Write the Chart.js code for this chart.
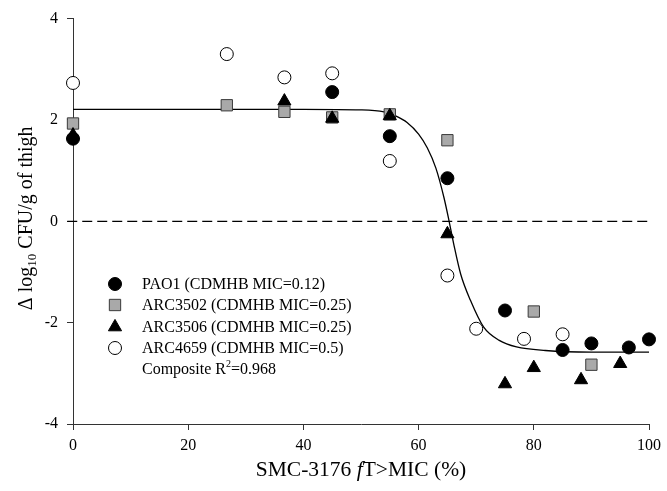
<!DOCTYPE html>
<html>
<head>
<meta charset="utf-8">
<script src="https://cdn.jsdelivr.net/npm/chart.js@4.4.0/dist/chart.umd.min.js"></script>
<style>
  html, body { margin: 0; padding: 0; background: #fff; }
  #wrap { width: 667px; height: 491px; }
</style>
</head>
<body>
<div id="wrap"><canvas id="chart" width="667" height="491"></canvas></div>
<script>
// data
const pao1X = [0, 45, 55, 65, 75, 85, 90, 96.5, 100];
const pao1Y = [1.63, 2.55, 1.68, 0.85, -1.76, -2.54, -2.41, -2.49, -2.33];

const arc3502X = [0, 26.7, 36.7, 45, 55, 65, 80, 90];
const arc3502Y = [1.93, 2.29, 2.16, 2.05, 2.11, 1.60, -1.78, -2.83];

const arc3506X = [0, 36.7, 45, 55, 65, 75, 80, 88.2, 95];
const arc3506Y = [1.70, 2.37, 2.03, 2.08, -0.25, -3.21, -2.89, -3.13, -2.81];

const arc4659X = [0, 26.7, 36.7, 45, 55, 65, 70, 78.3, 85];
const arc4659Y = [2.73, 3.30, 2.84, 2.92, 1.19, -1.07, -2.12, -2.32, -2.23];

// fitted curve, points
const fitX = [0, 20, 40, 50, 54, 56, 58, 60, 61.5, 63, 64.4, 65.3, 66.1, 67.3, 69, 71.3, 74, 77, 82, 90, 100];
const fitY = [2.21, 2.21, 2.21, 2.2, 2.16, 2.08, 1.95, 1.72, 1.45, 1.05, 0.47, 0.0, -0.45, -1.04, -1.56, -2.09, -2.35, -2.48, -2.55, -2.58, -2.58];

const refX = [-1, 100];
const refY = [0, 0];

const legendLabels = [
  "PAO1 (CDMHB MIC=0.12)",
  "ARC3502 (CDMHB MIC=0.25)",
  "ARC3506 (CDMHB MIC=0.25)",
  "ARC4659 (CDMHB MIC=0.5)"
];
const xTicks = [0, 20, 40, 60, 80, 100];
const yTicks = [-4, -2, 0, 2, 4];

const FONT = "'Liberation Serif', 'Times New Roman', serif";

const toPts = (xs, ys) => xs.map((x, i) => ({ x: x, y: ys[i] }));

const scatterSet = (label, xs, ys, style, r, fill, border, order) => ({
  type: "scatter",
  label: label,
  data: toPts(xs, ys),
  pointStyle: style,
  pointRadius: r,
  pointHoverRadius: r,
  backgroundColor: fill,
  borderColor: border,
  borderWidth: 1,
  clip: false,
  order: order
});

// legend drawn inside plot + axis titles with sub/superscripts
const annotations = {
  id: "annotations",
  afterDraw(chart) {
    const ctx = chart.ctx;
    const area = chart.chartArea;
    ctx.save();
    ctx.fillStyle = "#000";
    ctx.textBaseline = "middle";

    // legend
    const rows = [284, 305, 327, 348];
    chart.data.datasets.slice(0, 4).forEach((ds, i) => {
      ctx.fillStyle = ds.backgroundColor;
      ctx.strokeStyle = ds.borderColor;
      ctx.lineWidth = 1;
      Chart.helpers.drawPoint(ctx, {
        pointStyle: ds.pointStyle, radius: ds.pointRadius, rotation: 0, borderWidth: 1
      }, 115, rows[i]);
      ctx.fillStyle = "#000";
      ctx.font = "16px " + FONT;
      ctx.textAlign = "left";
      ctx.fillText(legendLabels[i], 142, rows[i] + 1);
    });
    ctx.font = "16px " + FONT;
    let tx = 142;
    const ty = 370;
    ctx.fillText("Composite R", tx, ty);
    tx += ctx.measureText("Composite R").width;
    ctx.font = "10px " + FONT;
    ctx.fillText("2", tx, ty - 6);
    tx += ctx.measureText("2").width;
    ctx.font = "16px " + FONT;
    ctx.fillText("=0.968", tx, ty);

    // x title
    const cx = (area.left + area.right) / 2;
    const parts = [
      ["SMC-3176 ", "normal"],
      ["f", "italic"],
      ["T>MIC (%)", "normal"]
    ];
    let total = 0;
    parts.forEach(p => {
      ctx.font = p[1] + " 21.5px " + FONT;
      total += ctx.measureText(p[0]).width;
    });
    let px = cx - total / 2;
    parts.forEach(p => {
      ctx.font = p[1] + " 21.5px " + FONT;
      ctx.fillText(p[0], px, 470);
      px += ctx.measureText(p[0]).width;
    });

    // y title (rotated)
    ctx.translate(27, (area.top + area.bottom) / 2 - 3);
    ctx.rotate(-Math.PI / 2);
    const yParts = [
      ["\u0394 log", 20, 0],
      ["10", 13, 6],
      [" CFU/g of thigh", 20, 0]
    ];
    let ytot = 0;
    yParts.forEach(p => {
      ctx.font = p[1] + "px " + FONT;
      ytot += ctx.measureText(p[0]).width;
    });
    let yx = -ytot / 2;
    yParts.forEach(p => {
      ctx.font = p[1] + "px " + FONT;
      ctx.fillText(p[0], yx, p[2]);
      yx += ctx.measureText(p[0]).width;
    });
    ctx.restore();
  }
};

const chart = new Chart(document.getElementById("chart").getContext("2d"), {
  type: "scatter",
  data: {
    datasets: [
      scatterSet(legendLabels[0], pao1X, pao1Y, "circle", 6.5, "#000000", "#000000", 1),
      scatterSet(legendLabels[1], arc3502X, arc3502Y, "rect", 8, "#a9a9a9", "#3a3a3a", 3),
      scatterSet(legendLabels[2], arc3506X, arc3506Y, "triangle", 7.6, "#000000", "#000000", 2),
      scatterSet(legendLabels[3], arc4659X, arc4659Y, "circle", 6.5, "#ffffff", "#000000", 4),
      {
        type: "line",
        label: "fit",
        data: toPts(fitX, fitY),
        borderColor: "#000",
        borderWidth: 1.3,
        pointRadius: 0,
        cubicInterpolationMode: "monotone",
        fill: false,
        clip: false,
        order: 5
      },
      {
        type: "line",
        label: "zero",
        data: toPts(refX, refY),
        borderColor: "#000",
        borderWidth: 1.2,
        borderDash: [10, 5],
        pointRadius: 0,
        fill: false,
        clip: false,
        order: 6
      }
    ]
  },
  options: {
    responsive: false,
    animation: false,
    layout: { padding: { left: 0, right: 14, top: 17, bottom: 0 } },
    plugins: {
      legend: { display: false },
      tooltip: { enabled: false }
    },
    scales: {
      x: {
        type: "linear",
        min: 0,
        max: 100,
        afterBuildTicks: (axis) => { axis.ticks = xTicks.map(v => ({ value: v })); },
        afterFit: (axis) => { axis.height = 67; },
        grid: { drawOnChartArea: false, drawTicks: true, tickLength: 6, color: "#333" },
        border: { display: true, color: "#333", width: 1 },
        ticks: { color: "#000", padding: 6, font: { family: FONT, size: 16 } }
      },
      y: {
        type: "linear",
        min: -4,
        max: 4,
        afterBuildTicks: (axis) => { axis.ticks = yTicks.map(v => ({ value: v })); },
        afterFit: (axis) => { axis.width = 73; },
        grid: { drawOnChartArea: false, drawTicks: true, tickLength: 6, color: "#333" },
        border: { display: true, color: "#333", width: 1 },
        ticks: { color: "#000", padding: 9, font: { family: FONT, size: 16 } }
      }
    }
  },
  plugins: [annotations]
});
</script>
</body>
</html>
